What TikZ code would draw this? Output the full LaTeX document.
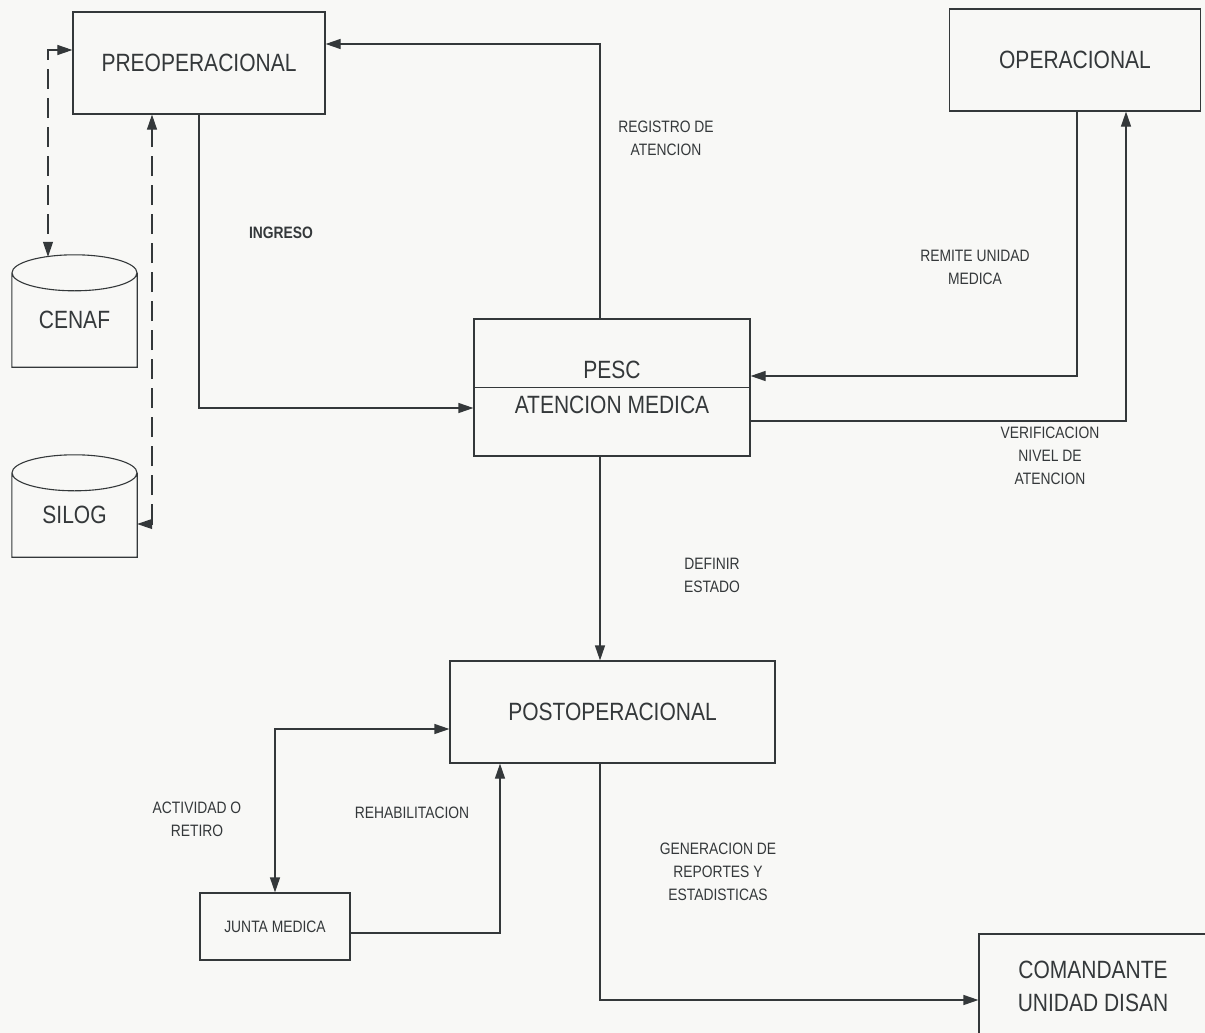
\documentclass[tikz,border=0pt]{standalone}
\usepackage{fontspec}
\newfontfamily\narrowsf[FakeStretch=0.84]{Liberation Sans}
\usetikzlibrary{arrows.meta, positioning}
\definecolor{inkgray}{RGB}{52,56,58}
\definecolor{paper}{RGB}{248,248,246}

\begin{document}
\begin{tikzpicture}[x=1pt, y=-1pt, >={Triangle[length=15pt,width=10pt]},
  bigbox/.style={draw=inkgray, line width=1.2pt, text=inkgray, align=center, inner sep=0pt,
    font=\narrowsf\fontsize{25}{35}\selectfont},
  dbstore/.style={text=inkgray, inner sep=0pt, minimum width=125pt,
    font=\narrowsf\fontsize{25}{35}\selectfont},
  lbl/.style={text=inkgray, align=center, inner sep=0pt,
    font=\narrowsf\fontsize{16.5}{23}\selectfont},
  flow/.style={draw=inkgray, line width=1.2pt, ->},
  dashflow/.style={draw=inkgray, line width=1.1pt, dash pattern=on 20pt off 9pt, <->}]
\useasboundingbox[fill=paper] (0,0) rectangle (1205,1033);

% boxes
\node[bigbox, minimum width=252pt, minimum height=102pt] (pre) at (199,63) {PREOPERACIONAL};
\node[bigbox, minimum width=251pt, minimum height=102pt] (oper) at (1075,60) {OPERACIONAL};
\node[bigbox, minimum width=276pt, minimum height=137pt] (pesc) at (612,387.5) {PESC\\ATENCION MEDICA};
\draw[inkgray, line width=1.2pt] (pesc.west) -- (pesc.east);
\node[bigbox, minimum width=325pt, minimum height=102pt] (post) at (612.5,712) {POSTOPERACIONAL};
\node[bigbox, minimum width=150pt, minimum height=67pt,
  font=\narrowsf\fontsize{16.5}{23}\selectfont] (junta) at (275,926.5) {JUNTA MEDICA};
\node[bigbox, minimum width=228pt, minimum height=104pt,
  font=\narrowsf\fontsize{25}{33}\selectfont] (coman) at (1093,986) {COMANDANTE\\UNIDAD DISAN};

% data stores
\node[dbstore, minimum height=94pt] (cenaf) at (74.5,320) {CENAF};
\node[dbstore, minimum height=84pt] (silog) at (74.5,515) {SILOG};
\foreach \db in {cenaf,silog}
  \draw[inkgray, line width=1.1pt] (\db.north west) -- (\db.south west) -- (\db.south east)
    -- (\db.north east) (\db.north) ellipse [x radius=62.5pt, y radius=18pt];
\coordinate (cenaf top) at ([xshift=-26.5pt, yshift=16pt]cenaf.north);

% flows
\draw[flow] ([xshift=-12pt]pesc.north) |- ([yshift=19pt]pre.east);
\draw[flow] (pre.south) |- ([yshift=-20.5pt]pesc.west);
\draw[flow] ([xshift=2pt]oper.south) |- ([yshift=11.5pt]pesc.east);
\draw[flow] ([yshift=-33.5pt]pesc.east) -| ([xshift=51pt]oper.south);
\draw[flow] ([xshift=-12pt]pesc.south) -- ([xshift=-12.5pt]post.north);
\draw[flow] ([xshift=-12.5pt]post.south) |- ([yshift=-14pt]coman.west);
\draw[flow, <->] (junta.north) |- ([yshift=-17pt]post.west);
\draw[flow] ([yshift=-6.5pt]junta.east) -| ([xshift=-112.5pt]post.south);
\draw[dashflow] ([yshift=13pt]pre.west) -| (cenaf top);
\draw[dashflow] ([yshift=-9pt]silog.east) -| ([xshift=-47pt]pre.south);

% labels
\node[lbl] (lregistro) at (666,138) {REGISTRO DE\\ATENCION};
\node[lbl, font=\narrowsf\bfseries\fontsize{16.5}{23}\selectfont] (lingreso) at (281,233) {INGRESO};
\node[lbl] (lremite) at (975,267) {REMITE UNIDAD\\MEDICA};
\node[lbl] (lverif) at (1050,456) {VERIFICACION\\NIVEL DE\\ATENCION};
\node[lbl] (ldefinir) at (712,575) {DEFINIR\\ESTADO};
\node[lbl] (lactividad) at (197,819) {ACTIVIDAD O\\RETIRO};
\node[lbl] (lrehab) at (412,813) {REHABILITACION};
\node[lbl] (lgener) at (718,872) {GENERACION DE\\REPORTES Y\\ESTADISTICAS};
\end{tikzpicture}
\end{document}
